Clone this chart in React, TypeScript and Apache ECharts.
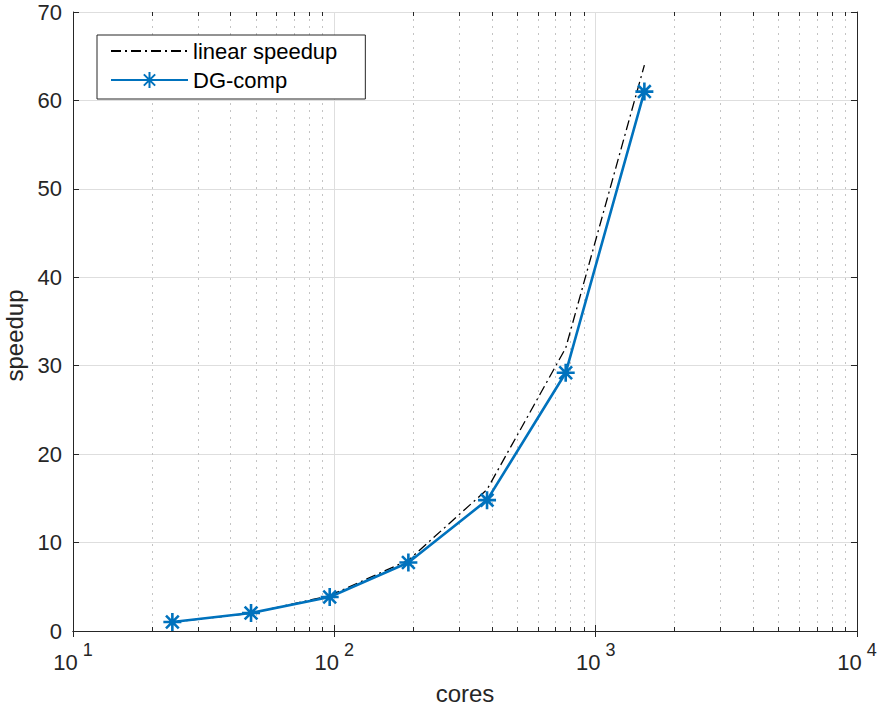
import React, { useEffect, useRef } from "react";
import * as echarts from "echarts";

const cores = [24, 48, 96, 192, 384, 768, 1536];
const linearSpeedup = [1, 2, 4, 8, 16, 32, 64];
const dgComp = [1.02, 2.03, 3.85, 7.75, 14.8, 29.2, 61.0];
const xMajorTicks = [10, 100, 1000, 10000];
const xMinorTicks = [
  20, 30, 40, 50, 60, 70, 80, 90,
  200, 300, 400, 500, 600, 700, 800, 900,
  2000, 3000, 4000, 5000, 6000, 7000, 8000, 9000,
];
const yTicks = [0, 10, 20, 30, 40, 50, 60, 70];

const FONT = "'Liberation Sans', Arial, Helvetica, sans-serif";
const AXIS = "#262626";
const BLUE = "#0072BD";
const ASTERISK =
  "path://M8,0L8,16M0,8L16,8M2.34,2.34L13.66,13.66M2.34,13.66L13.66,2.34";

export default function App() {
  const ref = useRef<HTMLDivElement>(null);

  useEffect(() => {
    if (!ref.current) return;
    const chart = echarts.init(ref.current, undefined, { renderer: "svg" });
    const xMin = xMajorTicks[0];
    const xMax = xMajorTicks[xMajorTicks.length - 1];
    const yMin = yTicks[0];
    const yMax = yTicks[yTicks.length - 1];

    chart.setOption({
      animation: false,
      backgroundColor: "#ffffff",
      textStyle: { fontFamily: FONT },
      grid: {
        left: 73,
        right: 21,
        top: 12,
        bottom: 76,
        containLabel: false,
        outerBoundsMode: "none",
      },
      legend: {
        left: 97,
        top: 35,
        orient: "vertical",
        data: [
          { name: "linear speedup", itemStyle: { opacity: 0 } },
          { name: "DG-comp" },
        ],
        itemWidth: 77,
        itemHeight: 20,
        itemGap: 7,
        padding: [5, 28, 8, 13],
        borderColor: AXIS,
        borderWidth: 1,
        borderRadius: 0,
        backgroundColor: "#ffffff",
        textStyle: { fontSize: 22, color: "#000", fontFamily: FONT, lineHeight: 22 },
        selectedMode: false,
      },
      xAxis: [
        {
          type: "log",
          logBase: 10,
          min: xMin,
          max: xMax,
          name: "cores",
          nameLocation: "middle",
          nameGap: 50,
          nameTextStyle: { fontSize: 24, color: AXIS, fontFamily: FONT },
          axisLine: { show: true, lineStyle: { color: AXIS, width: 1 } },
          axisTick: { show: true, inside: true, length: 6, lineStyle: { color: AXIS } },
          axisLabel: {
            margin: 10,
            color: AXIS,
            formatter: (v: number) => {
              const e = Math.round(Math.log10(v));
              return "{b|10}{s|" + e + "}";
            },
            rich: {
              b: { fontSize: 22, lineHeight: 22, verticalAlign: "bottom", color: AXIS, fontFamily: FONT },
              s: {
                fontSize: 18,
                lineHeight: 32,
                height: 18,
                verticalAlign: "top",
                padding: [0, 0, 14, 5],
                color: AXIS,
                fontFamily: FONT,
              },
            },
          },
          splitLine: { show: true, lineStyle: { color: "#dedede", width: 1 } },
          minorTick: { show: false },
        },
        {
          type: "log",
          logBase: 10,
          min: xMin,
          max: xMax,
          position: "top",
          axisLine: { show: true, lineStyle: { color: AXIS, width: 1 } },
          axisTick: { show: true, inside: true, length: 6, lineStyle: { color: AXIS } },
          axisLabel: { show: false },
          splitLine: { show: false },
        },
      ],
      yAxis: [
        {
          type: "value",
          min: yMin,
          max: yMax,
          interval: 10,
          name: "speedup",
          nameLocation: "middle",
          nameGap: 47,
          nameTextStyle: {
            fontSize: 24,
            color: AXIS,
            fontFamily: FONT,
            padding: [0, 28, 0, 0],
          },
          axisLine: { show: true, lineStyle: { color: AXIS, width: 1 } },
          axisTick: { show: true, inside: true, length: 6, lineStyle: { color: AXIS } },
          axisLabel: { fontSize: 22, color: AXIS, margin: 11, fontFamily: FONT },
          splitLine: { show: true, lineStyle: { color: "#dedede", width: 1 } },
        },
        {
          type: "value",
          min: yMin,
          max: yMax,
          interval: 10,
          position: "right",
          axisLine: { show: true, lineStyle: { color: AXIS, width: 1 } },
          axisTick: { show: true, inside: true, length: 6, lineStyle: { color: AXIS } },
          axisLabel: { show: false },
          splitLine: { show: false },
        },
      ],
      series: [
        {
          type: "custom",
          name: "minor",
          silent: true,
          z: 1,
          xAxisIndex: 0,
          yAxisIndex: 0,
          clip: false,
          data: xMinorTicks.map((v) => [v, yMin]),
          renderItem: (params: any, api: any) => {
            const cs = params.coordSys;
            const px = Math.round(api.coord([api.value(0), yMin])[0]) + 0.5;
            const top = cs.y;
            const bottom = cs.y + cs.height;
            return {
              type: "group",
              children: [
                {
                  type: "line",
                  shape: { x1: px, y1: top, x2: px, y2: bottom },
                  style: { stroke: "#c4c4c4", lineWidth: 1, lineDash: [2, 5] },
                },
                {
                  type: "line",
                  shape: { x1: px, y1: bottom, x2: px, y2: bottom - 4 },
                  style: { stroke: AXIS, lineWidth: 1 },
                },
                {
                  type: "line",
                  shape: { x1: px, y1: top, x2: px, y2: top + 4 },
                  style: { stroke: AXIS, lineWidth: 1 },
                },
              ],
            };
          },
        },
        {
          type: "line",
          name: "linear speedup",
          z: 3,
          data: cores.map((c, i) => [c, linearSpeedup[i]]),
          symbol: "none",
          lineStyle: { color: "#000", width: 1.3, type: [10, 4, 2, 4] },
          itemStyle: { color: "#000" },
        },
        {
          type: "line",
          name: "DG-comp",
          z: 4,
          data: cores.map((c, i) => [c, dgComp[i]]),
          symbol: ASTERISK,
          symbolSize: 18,
          lineStyle: { color: BLUE, width: 2.6 },
          itemStyle: { color: BLUE, borderColor: BLUE, borderWidth: 2.6 },
        },
      ],
    });

    return () => chart.dispose();
  }, []);

  return (
    <div
      ref={ref}
      style={{ position: "fixed", left: 0, top: 0, width: 878, height: 707 }}
    />
  );
}
